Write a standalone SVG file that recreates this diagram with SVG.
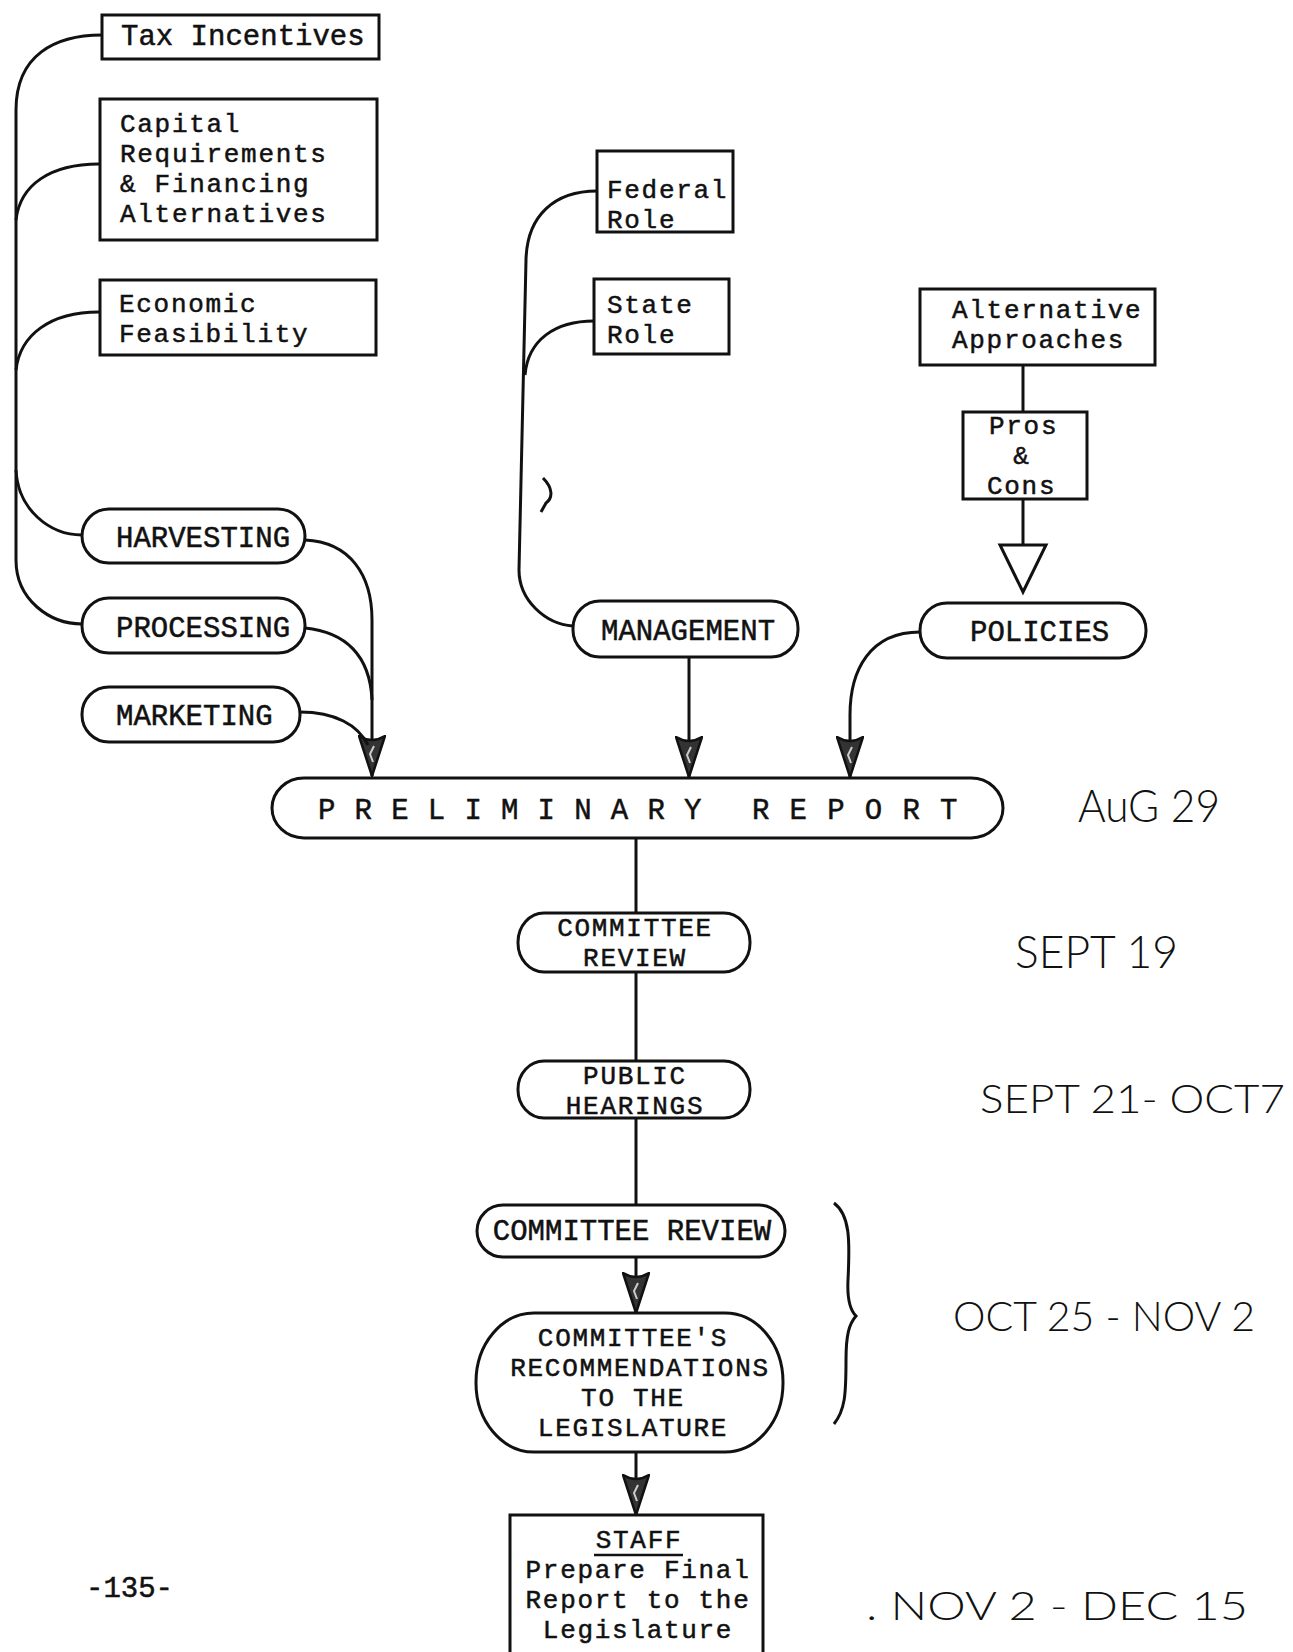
<svg xmlns="http://www.w3.org/2000/svg" width="1293" height="1652" viewBox="0 0 1293 1652">
<style>
.box{fill:#fff;stroke:#111;stroke-width:3}
.t{font-family:"Liberation Mono","Courier New",monospace;font-size:29px;fill:#111;stroke:#111;stroke-width:0.5}
.m{font-size:26px;letter-spacing:1.7px}
.c{text-anchor:middle}
.h{font-family:"Lato","Liberation Sans",Arial,sans-serif;font-weight:300;fill:#111}
.ln{fill:none;stroke:#111;stroke-width:3}
</style>
<defs>
<marker id="ah" viewBox="0 0 42 28" refX="41" refY="14" markerWidth="42" markerHeight="28" markerUnits="userSpaceOnUse" orient="auto">
<path d="M1,1 Q9,14 1,27 L41,14 Z" fill="#333" stroke="#111" stroke-width="2.5"/>
<path d="M11,12 L19,16 L27,13" fill="none" stroke="#ccc" stroke-width="2"/>
</marker>
</defs>
<rect width="1293" height="1652" fill="#fff"/>

<g id="connectors">
<path class="ln" d="M102,35 C55,35 16,55 16,110 L16,560 C16,600 50,624 82,624"/>
<path class="ln" d="M99,164 C50,164 20,185 16,220"/>
<path class="ln" d="M99,312 C50,312 20,335 16,370"/>
<path class="ln" d="M16,470 C18,510 50,535 82,535"/>
<path class="ln" d="M305,540 C350,542 372,575 372,620 L372,776" marker-end="url(#ah)"/>
<path class="ln" d="M305,628 C345,632 370,655 372,700"/>
<path class="ln" d="M300,712 C335,712 358,725 368,745"/>
<path class="ln" d="M597,191 C555,191 527,215 526,260 L519,570 C519,600 545,624 573,626"/>
<path class="ln" d="M594,321 C555,321 528,340 525,375"/>
<path class="ln" d="M543,478 C553,488 553,498 546,503 L541,512" stroke-width="2.5"/>
<path class="ln" d="M689,657 L689,777" marker-end="url(#ah)"/>
<path class="ln" d="M920,632 C870,632 850,670 850,715 L850,777" marker-end="url(#ah)"/>
<path class="ln" d="M1023,365 L1023,412"/>
<path class="ln" d="M1023,498 L1023,545"/>
<polygon points="1000,545 1046,545 1023,592" fill="#fff" stroke="#111" stroke-width="3"/>
<path class="ln" d="M636,838 L636,913"/>
<path class="ln" d="M636,972 L636,1061"/>
<path class="ln" d="M636,1118 L636,1205"/>
<path class="ln" d="M636,1257 L636,1313" marker-end="url(#ah)"/>
<path class="ln" d="M636,1452 L636,1515" marker-end="url(#ah)"/>
<path class="ln" d="M834,1203 C850,1215 850,1240 848,1280 C847,1300 850,1310 856,1316 C849,1324 846,1335 846,1360 C846,1395 845,1410 834,1424" stroke-width="2.5"/>
</g>

<g id="tax-incentives">
<rect class="box" x="102" y="15" width="277" height="44"/>
<text class="t" x="121" y="45">Tax Incentives</text>
</g>
<g id="capital-requirements">
<rect class="box" x="100" y="99" width="277" height="141"/>
<text class="t m" x="120" y="132">Capital</text>
<text class="t m" x="120" y="162">Requirements</text>
<text class="t m" x="120" y="192">&amp; Financing</text>
<text class="t m" x="120" y="222">Alternatives</text>
</g>
<g id="economic-feasibility">
<rect class="box" x="100" y="280" width="276" height="75"/>
<text class="t m" x="119" y="312">Economic</text>
<text class="t m" x="119" y="342">Feasibility</text>
</g>
<g id="federal-role">
<rect class="box" x="597" y="151" width="136" height="81"/>
<text class="t m" x="607" y="198">Federal</text>
<text class="t m" x="607" y="228">Role</text>
</g>
<g id="state-role">
<rect class="box" x="594" y="279" width="135" height="75"/>
<text class="t m" x="607" y="313">State</text>
<text class="t m" x="607" y="343">Role</text>
</g>
<g id="alternative-approaches">
<rect class="box" x="920" y="289" width="235" height="76"/>
<text class="t m" x="952" y="318">Alternative</text>
<text class="t m" x="952" y="348">Approaches</text>
</g>
<g id="pros-cons">
<rect class="box" x="963" y="412" width="124" height="87"/>
<text class="t m" x="989" y="434">Pros</text>
<text class="t m c" x="1022" y="464">&amp;</text>
<text class="t m" x="987" y="494">Cons</text>
</g>
<g id="harvesting">
<rect class="box" x="82" y="509" width="223" height="54" rx="27" ry="27"/>
<text class="t" x="116" y="547">HARVESTING</text>
</g>
<g id="processing">
<rect class="box" x="82" y="598" width="223" height="55" rx="27" ry="27"/>
<text class="t" x="116" y="637">PROCESSING</text>
</g>
<g id="marketing">
<rect class="box" x="82" y="687" width="218" height="55" rx="27" ry="27"/>
<text class="t" x="116" y="725">MARKETING</text>
</g>
<g id="management">
<rect class="box" x="573" y="601" width="225" height="56" rx="27" ry="27"/>
<text class="t" x="601" y="640">MANAGEMENT</text>
</g>
<g id="policies">
<rect class="box" x="920" y="603" width="226" height="55" rx="27" ry="27"/>
<text class="t" x="970" y="641">POLICIES</text>
</g>
<g id="preliminary-report">
<rect class="box" x="272" y="778" width="731" height="60" rx="32" ry="30"/>
<text class="t" x="318" y="819" letter-spacing="19.2">PRELIMINARY</text>
<text class="t" x="752" y="819" letter-spacing="20.2">REPORT</text>
</g>
<g id="committee-review-1">
<rect class="box" x="518" y="913" width="232" height="59" rx="26" ry="29"/>
<text class="t m c" x="635" y="936">COMMITTEE</text>
<text class="t m c" x="635" y="966">REVIEW</text>
</g>
<g id="public-hearings">
<rect class="box" x="518" y="1061" width="232" height="57" rx="26" ry="28"/>
<text class="t m c" x="635" y="1084">PUBLIC</text>
<text class="t m c" x="635" y="1114">HEARINGS</text>
</g>
<g id="committee-review-2">
<rect class="box" x="477" y="1205" width="308" height="52" rx="26" ry="26"/>
<text class="t c" x="632" y="1240">COMMITTEE REVIEW</text>
</g>
<g id="committee-recommendations">
<rect class="box" x="476" y="1313" width="307" height="139" rx="58" ry="69"/>
<text class="t m c" x="633" y="1346">COMMITTEE'S</text>
<text class="t m c" x="640" y="1376">RECOMMENDATIONS</text>
<text class="t m c" x="633" y="1406">TO THE</text>
<text class="t m c" x="633" y="1436">LEGISLATURE</text>
</g>
<g id="staff-final-report">
<rect class="box" x="510" y="1515" width="253" height="145"/>
<text class="t m c" x="639" y="1548">STAFF</text>
<line x1="594" y1="1555" x2="683" y2="1555" stroke="#111" stroke-width="2.5"/>
<text class="t m c" x="638" y="1578">Prepare Final</text>
<text class="t m c" x="638" y="1608">Report to the</text>
<text class="t m c" x="638" y="1638">Legislature</text>
</g>

<g id="dates">
<text class="h" x="1078" y="822" font-size="46" textLength="142" lengthAdjust="spacingAndGlyphs">AuG 29</text>
<text class="h" x="1015" y="968" font-size="45" textLength="163" lengthAdjust="spacingAndGlyphs">SEPT 19</text>
<text class="h" x="980" y="1113" font-size="40" textLength="305" lengthAdjust="spacingAndGlyphs">SEPT 21- OCT7</text>
<text class="h" x="953" y="1331" font-size="42" textLength="302" lengthAdjust="spacingAndGlyphs">OCT 25 - NOV 2</text>
<text class="h" x="866" y="1620" font-size="40" textLength="382" lengthAdjust="spacingAndGlyphs">. NOV 2 - DEC 15</text>
</g>
<text class="t" x="86" y="1597" font-size="26">-135-</text>
</svg>
